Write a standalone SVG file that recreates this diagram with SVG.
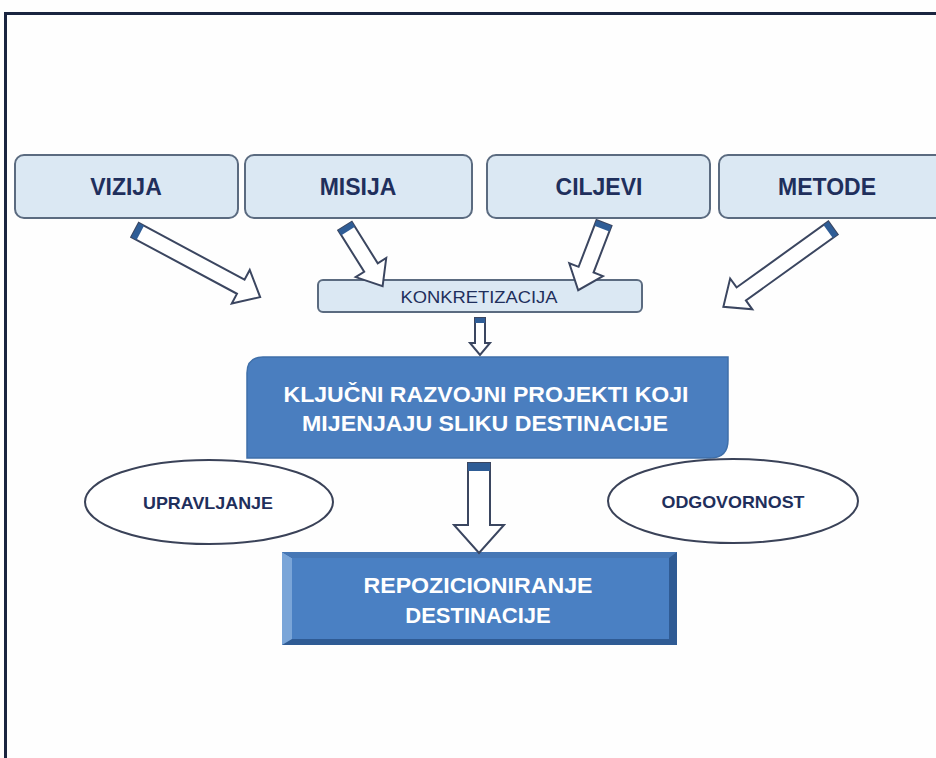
<svg xmlns="http://www.w3.org/2000/svg" width="936" height="758" viewBox="0 0 936 758">
<style>
.top{fill:#dbe8f3;stroke:#5b6b80;stroke-width:2}
.tt{font-family:"Liberation Sans",Arial,sans-serif;font-weight:bold;font-size:23px;fill:#1f2f5c;text-anchor:middle}
.wt{font-family:"Liberation Sans",Arial,sans-serif;font-weight:bold;font-size:22px;fill:#ffffff;text-anchor:middle}
.et{font-family:"Liberation Sans",Arial,sans-serif;font-weight:bold;font-size:17px;fill:#1f2f5c;text-anchor:middle}
.ell{fill:#ffffff;stroke:#3a4258;stroke-width:2}
.arr{fill:#ffffff;stroke:#3b4660;stroke-width:2;stroke-linejoin:miter}
.cap{fill:#2f5d96}
</style>
<rect x="0" y="0" width="936" height="758" fill="#fefefe"/>
<path d="M5.5,758 L5.5,13.5 L936,13.5" fill="none" stroke="#1a2540" stroke-width="3"/>

<g id="vizija">
<rect class="top" x="15" y="155" width="223" height="63" rx="9"/>
<text class="tt" x="126" y="195">VIZIJA</text>
</g>
<g id="misija">
<rect class="top" x="245" y="155" width="227" height="63" rx="9"/>
<text class="tt" x="358" y="195">MISIJA</text>
</g>
<g id="ciljevi">
<rect class="top" x="487" y="155" width="223" height="63" rx="9"/>
<text class="tt" x="599" y="195">CILJEVI</text>
</g>
<g id="metode">
<rect class="top" x="719" y="155" width="240" height="63" rx="9"/>
<text class="tt" x="827" y="195">METODE</text>
</g>
<g id="konkretizacija">
<rect class="top" x="318" y="280" width="324" height="32" rx="5"/>
<text x="479" y="303" font-family="'Liberation Sans',Arial,sans-serif" font-size="17" fill="#1f2f5c" text-anchor="middle" textLength="157" lengthAdjust="spacingAndGlyphs">KONKRETIZACIJA</text>
</g>
<g id="kljucni">
<path d="M247,458 L247,373 Q247,357 263,357 L728,357 L728,440 Q728,458 710,458 Z" fill="#4a7ebf" stroke="#3f6fa9" stroke-width="1.5"/>
<text class="wt" x="486" y="402" textLength="405" lengthAdjust="spacingAndGlyphs">KLJUČNI RAZVOJNI PROJEKTI KOJI</text>
<text class="wt" x="485" y="431" textLength="366" lengthAdjust="spacingAndGlyphs">MIJENJAJU SLIKU DESTINACIJE</text>
</g>
<g id="upravljanje">
<ellipse class="ell" cx="209" cy="502" rx="124" ry="42"/>
<text class="et" x="208" y="509" textLength="130" lengthAdjust="spacingAndGlyphs">UPRAVLJANJE</text>
</g>
<g id="odgovornost">
<ellipse class="ell" cx="733" cy="501" rx="125" ry="42"/>
<text class="et" x="733" y="508" textLength="143" lengthAdjust="spacingAndGlyphs">ODGOVORNOST</text>
</g>
<g id="repozicioniranje">
<rect x="282" y="552" width="395" height="93" fill="#2f5b94"/>
<polygon points="282,552 292,558 292,639 282,645" fill="#7aa5d8"/>
<polygon points="282,552 677,552 669,558 292,558" fill="#4677b5"/>
<rect x="292" y="558" width="377" height="81" fill="#4a80c3"/>
<text class="wt" x="478" y="593" textLength="229" lengthAdjust="spacingAndGlyphs">REPOZICIONIRANJE</text>
<text class="wt" x="478" y="623">DESTINACIJE</text>
</g>

<g id="connectors">
<g transform="translate(135,230) rotate(28.2)">
<polygon class="arr" points="0,-8 120,-8 120,-19 142,0 120,19 120,8 0,8"/>
<rect class="cap" x="0" y="-8" width="6" height="16"/>
</g>
<g transform="translate(345,226) rotate(58)">
<polygon class="arr" points="0,-8 49,-8 49,-18 71,0 49,18 49,8 0,8"/>
<rect class="cap" x="0" y="-8" width="6" height="16"/>
</g>
<g transform="translate(604,223) rotate(111)">
<polygon class="arr" points="0,-8 50,-8 50,-18 72,0 50,18 50,8 0,8"/>
<rect class="cap" x="0" y="-8" width="6" height="16"/>
</g>
<g transform="translate(833,228) rotate(144.3)">
<polygon class="arr" points="0,-8 113,-8 113,-19 135,0 113,19 113,8 0,8"/>
<rect class="cap" x="0" y="-8" width="6" height="16"/>
</g>
<g transform="translate(480,318) rotate(90)">
<polygon class="arr" points="0,-5 25,-5 25,-10 37,0 25,10 25,5 0,5"/>
<rect class="cap" x="0" y="-5" width="5" height="10"/>
</g>
<g transform="translate(479,463) rotate(90)">
<polygon class="arr" points="0,-11 62,-11 62,-25 90,0 62,25 62,11 0,11"/>
<rect class="cap" x="0" y="-11" width="8" height="22"/>
</g>
</g>
</svg>
